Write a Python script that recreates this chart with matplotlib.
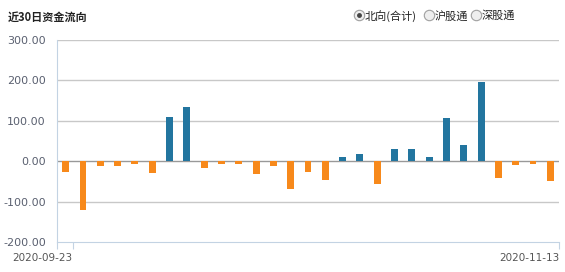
import matplotlib
matplotlib.use("Agg")
import matplotlib.pyplot as plt
from matplotlib.lines import Line2D

plt.rcParams['font.family'] = ['Noto Sans CJK SC', 'DejaVu Sans']

# daily net flow (亿元), 29 trading days
flows = [-26, -122, -11, -11, -6, -29, 110, 135, -16, -6,
         -6, -31, -11, -69, -26, -46, 10, 17, -56, 30,
         30, 10, 108, 39, 197, -42, -9, -6, -49]
date_labels = ['2020-09-23', '2020-11-13']
date_ticks = [0.4, 28.5]
y_ticks = [-200, -100, 0, 100, 200, 300]
radio_labels = ['北向(合计)', '沪股通', '深股通']

blue = '#22759f'
orange = '#f7891b'
axis_blue = '#c3d3e3'

W, H = 565, 272
fig = plt.figure(figsize=(W / 100, H / 100), dpi=100)
ax = fig.add_axes([57 / W, (H - 242) / H, (559 - 57) / W, (242 - 40) / H])

x = list(range(len(flows)))
colors = [blue if v > 0 else orange for v in flows]
ax.bar(x, flows, width=0.4, color=colors, zorder=3)

ax.set_xlim(-0.5, len(flows) - 0.5)
ax.set_ylim(-200, 300)

for v in y_ticks[1:]:
    ax.axhline(v, color='#999999' if v == 0 else '#c8c8c8', lw=1, zorder=2)

ax.set_yticks(y_ticks)
ax.set_yticklabels([f'{v:.2f}' for v in y_ticks], family='DejaVu Sans',
                   fontsize=8, color='#5a6070')
ax.tick_params(axis='y', length=0, pad=8)

ax.set_xticks([-0.5] + date_ticks)
ax.set_xticklabels([''] + date_labels, family='DejaVu Sans', fontsize=7.5,
                   color='#555555', ha='right')
ax.tick_params(axis='x', length=5, color=axis_blue, pad=3)

for s in ['top', 'right']:
    ax.spines[s].set_visible(False)
for s in ['left', 'bottom']:
    ax.spines[s].set_color(axis_blue)

fig.text(8 / W, 1 - 17 / H, '近30日资金流向', fontsize=8, fontweight='bold',
         va='center', ha='left', color='#222222')

# radio buttons
radio_x = [359, 429, 476]
for i, (rx, lab) in enumerate(zip(radio_x, radio_labels)):
    fig.add_artist(Line2D([rx / W], [1 - 15 / H], marker='o', markersize=7.5,
                          markerfacecolor='#eeeeee', markeredgecolor='#a0a0a0',
                          markeredgewidth=0.8, transform=fig.transFigure))
    if i == 0:
        fig.add_artist(Line2D([rx / W], [1 - 15 / H], marker='o', markersize=2.5,
                              markerfacecolor='#444444', markeredgecolor='#444444',
                              transform=fig.transFigure))
    fig.text((rx + 6) / W, 1 - 16 / H, lab, fontsize=8, va='center', ha='left',
             color='#222222')

fig.savefig('out.png', dpi=100)
